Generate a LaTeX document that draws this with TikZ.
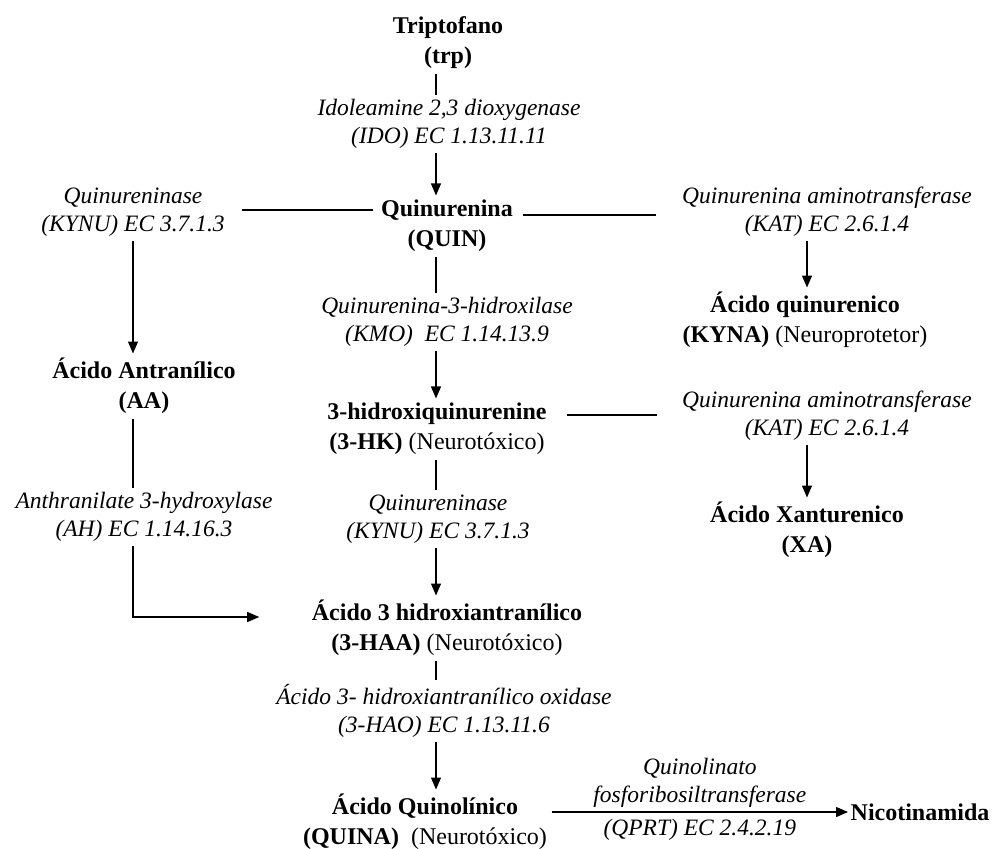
\documentclass[tikz,border=0pt]{standalone}
\usepackage{fontspec}
\setmainfont{Liberation Serif}
\usetikzlibrary{arrows.meta}

\begin{document}
\begin{tikzpicture}[x=1pt,y=-1pt,
  cpd/.style={align=center, font=\fontsize{24}{30}\selectfont\bfseries, inner sep=4pt},
  enz/.style={align=center, font=\fontsize{23.5}{28}\selectfont\itshape, inner sep=4pt},
  >={Triangle[length=12pt,width=10pt]}, line width=1.3pt]
\useasboundingbox (0,0) rectangle (995,848);

\coordinate (lft) at (133,0);
\coordinate (mid) at (436,0);
\coordinate (rgt) at (807,0);

\node[cpd] (trp) at (448,43) {Triptofano\\(trp)};
\node[enz] (ido) at (449,124) {Idoleamine 2,3 dioxygenase\\(IDO) EC 1.13.11.11};
\node[cpd] (quin) at (447,226) {Quinurenina\\(QUIN)};
\node[enz] (kynuA) at (133,212) {Quinureninase\\(KYNU) EC 3.7.1.3};
\node[enz] (katA) at (827,212) {Quinurenina aminotransferase\\(KAT) EC 2.6.1.4};
\node[cpd] (kyna) at (805,320) {Ácido quinurenico\\(KYNA) {\mdseries (Neuroprotetor)}};
\node[enz] (kmo) at (447,322) {Quinurenina-3-hidroxilase\\(KMO)\ \ EC 1.14.13.9};
\node[cpd] (aa) at (144,386) {Ácido Antranílico\\(AA)};
\node[cpd] (hk) at (437,429) {3-hidroxiquinurenine\\(3-HK) {\mdseries (Neurotóxico)}};
\node[enz] (katB) at (827,416) {Quinurenina aminotransferase\\(KAT) EC 2.6.1.4};
\node[cpd] (xa) at (807,530) {Ácido Xanturenico\\(XA)};
\node[enz] (ah) at (144,517) {Anthranilate 3-hydroxylase\\(AH) EC 1.14.16.3};
\node[enz] (kynuB) at (438,519) {Quinureninase\\(KYNU) EC 3.7.1.3};
\node[cpd] (haa) at (447,628) {Ácido 3 hidroxiantranílico\\(3-HAA) {\mdseries (Neurotóxico)}};
\node[enz] (hao) at (444,711) {Ácido 3- hidroxiantranílico oxidase\\(3-HAO) EC 1.13.11.6};
\node[cpd] (quina) at (425,822) {Ácido Quinolínico\\(QUINA)\ \ {\mdseries (Neurotóxico)}};
\node[cpd, inner sep=2pt] (nic) at (920,812) {Nicotinamida};

% main column
\draw (trp.south -| mid) -- (ido.north -| mid);
\draw[->] (ido.south -| mid) -- (quin.north -| mid);
\draw (quin.south -| mid) -- (kmo.north -| mid);
\draw[->] (kmo.south -| mid) -- (hk.north -| mid);
\draw (hk.south -| mid) -- (kynuB.north -| mid);
\draw[->] (kynuB.south -| mid) -- (haa.north -| mid);
\draw (haa.south -| mid) -- (hao.north -| mid);
\draw[->] (hao.south -| mid) -- (quina.north -| mid);

% side branches
\draw[shorten <=4pt, shorten >=13pt] ([yshift=16pt]quin.west) -- ([yshift=16pt]quin.west -| kynuA.east);
\draw[shorten <=6pt, shorten >=22pt] ([yshift=11pt]quin.east) -- ([yshift=11pt]quin.east -| katA.west);
\draw[shorten <=16pt, shorten >=21pt] ([yshift=14pt]hk.east) -- ([yshift=14pt]hk.east -| katB.west);
\draw[->] (kynuA.south -| lft) -- (aa.north -| lft);
\draw (aa.south -| lft) -- (ah.north -| lft);
\draw[->, shorten >=48pt] (ah.south -| lft) |- ([yshift=11pt]haa.west);
\draw[->] (katA.south -| rgt) -- (kyna.north -| rgt);
\draw[->] (katB.south -| rgt) -- (xa.north -| rgt);

\draw[->] (quina.east |- nic.west) -- node[enz, above] {Quinolinato\\fosforibosiltransferase}
  node[enz, below=3pt] {(QPRT) EC 2.4.2.19} (nic.west);
\end{tikzpicture}
\end{document}
